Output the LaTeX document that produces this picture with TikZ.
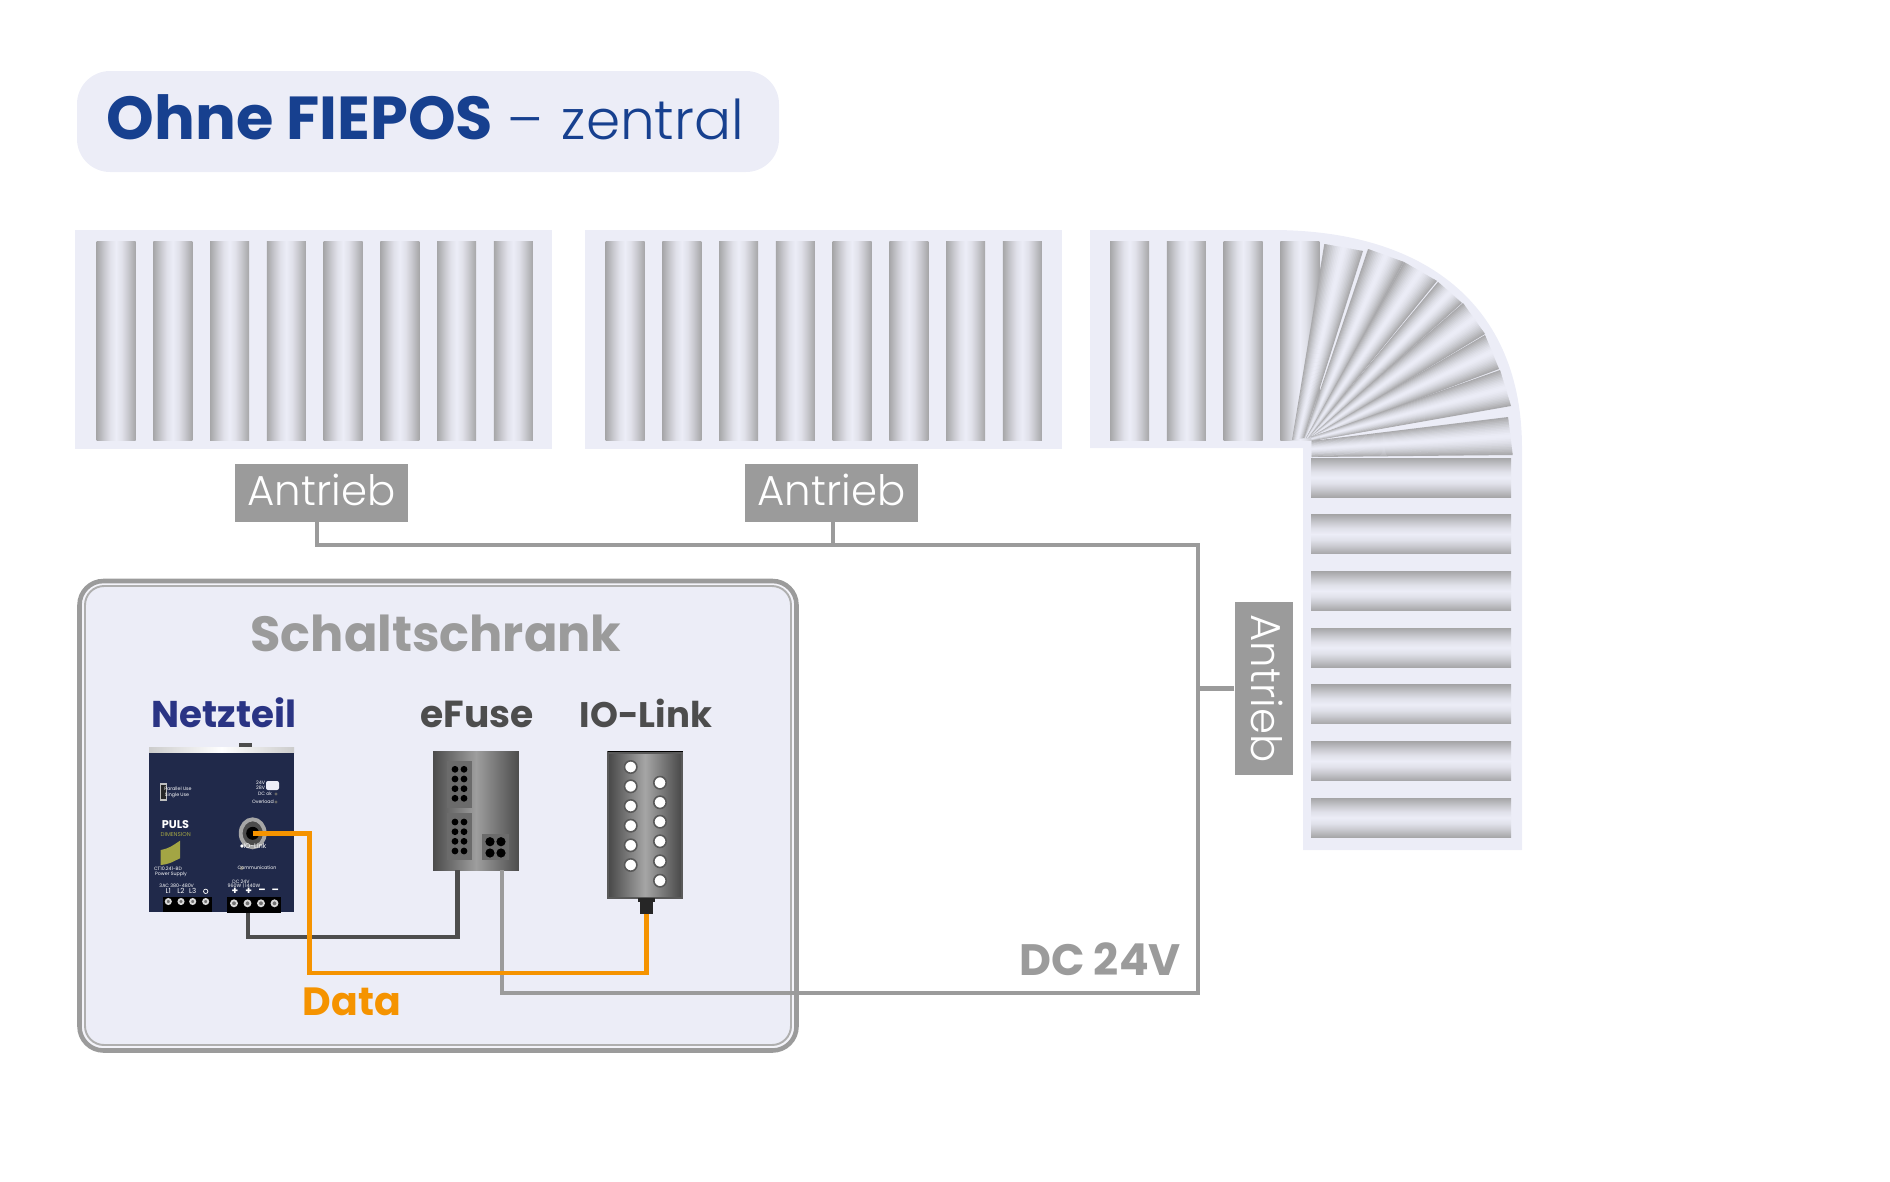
\documentclass[tikz,border=0pt]{standalone}
\usepackage{fontspec}
\setmainfont{Poppins}
\newfontfamily\lightfont{Poppins Light}
\usetikzlibrary{calc}
\definecolor{panelbg}{HTML}{ECEDF7}
\definecolor{stripdark}{HTML}{A6A6A8}
\definecolor{wiregray}{HTML}{9B9B9B}
\definecolor{wiredark}{HTML}{4D4D4D}
\definecolor{dataorange}{HTML}{F59300}
\definecolor{titleblue}{HTML}{17408F}
\definecolor{netznavy}{HTML}{2A3484}
\definecolor{pulsbody}{HTML}{20294A}
\definecolor{pulsolive}{HTML}{A3A544}
\colorlet{stripa}{panelbg!25!stripdark}
\colorlet{stripb}{panelbg!50!stripdark}
\colorlet{stripc}{panelbg!83!stripdark}
\pgfdeclarehorizontalshading{stripshadev}{100bp}{color(0bp)=(stripdark);color(25bp)=(stripdark);color(30bp)=(stripa);color(35bp)=(stripb);color(42.5bp)=(stripc);color(50bp)=(panelbg);color(57.5bp)=(stripc);color(65bp)=(stripb);color(70bp)=(stripa);color(75bp)=(stripdark);color(100bp)=(stripdark)}
\pgfdeclareverticalshading{stripshadeh}{100bp}{color(0bp)=(stripdark);color(25bp)=(stripdark);color(30bp)=(stripa);color(35bp)=(stripb);color(42.5bp)=(stripc);color(50bp)=(panelbg);color(57.5bp)=(stripc);color(65bp)=(stripb);color(70bp)=(stripa);color(75bp)=(stripdark);color(100bp)=(stripdark)}
\tikzset{
  stripv/.style={shading=stripshadev},
  striph/.style={shading=stripshadeh},
  antrieb/.style={fill=wiregray,text=white,inner sep=0pt,minimum width=1.73cm,minimum height=.58cm,text depth=.07cm,font=\lightfont\fontsize{11.9}{12}\selectfont},
  wire/.style={line width=1.25pt,wiregray},
  devlabel/.style={inner sep=0pt,anchor=base},
  tiny/.style={inner sep=0pt,text=white,font=\fontsize{1.35}{1.5}\selectfont}
}
\begin{document}
\begin{tikzpicture}[x=0.01cm,y=-0.01cm]
\useasboundingbox (0,0) rectangle (1890,1181);

% title
\fill[panelbg,rounded corners=.33cm] (77,71) rectangle (779,172);
\node[inner sep=0pt,anchor=base west,text=titleblue] (title) at (106,139) {\fontsize{17.25}{20}\selectfont\textbf{Ohne FIEPOS} \lightfont\fontsize{15.6}{20}\selectfont\hspace{-.02cm}\textendash\ \hspace{.04cm}zentral};

% straight panels
\fill[panelbg] (75,230) rectangle (552,449);
\fill[panelbg] (585,230) rectangle (1062,449);
\foreach \n in {0,...,7} {
  \shade[stripv] ({96.5+56.75*\n},241) rectangle ++(39,199);
  \shade[stripv] ({605.5+56.75*\n},241) rectangle ++(39,199);
}

% curved panel
\fill[panelbg] (1090,230) -- (1272,230) .. controls (1425,230) and (1522,305) .. (1522,448) -- (1522,850) -- (1303,850) -- (1303,448) -- (1090,448) -- cycle;
\foreach \n in {0,...,3}
  \shade[stripv] ({1110+56.8*\n},241) rectangle ++(39,199);
\foreach \n in {0,...,6}
  \shade[striph] (1311,{458+56.7*\n}) rectangle ++(200,39);

% fan of the bend, each blade in slices
\foreach \ax/\ay/\bx/\by/\cx/\cy/\ex/\ey in {
  1292/440/1304/438/1324.3/244/1363/251,
  1304/438/1308/438/1368/249/1404/262,
  1306/438/1309/438/1404/262/1437/281,
  1309/437/1311/438/1438/282/1462/303,
  1310/437/1312/438/1463/303/1485/334,
  1311/437/1312/439/1485/335/1499/369,
  1311/437/1312/441/1500/370/1511/406,
  1311.7/441/1311.7/457/1508/417/1512.7/455} {
  \foreach \t in {0,...,23} {
    \pgfmathsetmacro\tri{1-abs(2*(\t+.5)/24-1)}
    \pgfmathsetmacro\mixv{100*(1-(1-\tri)^1.5)}
    \pgfmathsetmacro\ta{\t/24}
    \pgfmathsetmacro\tb{min(1,(\t+1.4)/24)}
    \fill[panelbg!\mixv!stripdark] ({\ax+(\bx-\ax)*\ta},{\ay+(\by-\ay)*\ta}) -- ({\cx+(\ex-\cx)*\ta},{\cy+(\ey-\cy)*\ta}) -- ({\cx+(\ex-\cx)*\tb},{\cy+(\ey-\cy)*\tb}) -- ({\ax+(\bx-\ax)*\tb},{\ay+(\by-\ay)*\tb}) -- cycle;
  }
}

% drives
\node[antrieb] (ant1) at (321.5,493) {Antrieb};
\node[antrieb] (ant2) at (831.5,493) {Antrieb};
\node[antrieb,rotate=-90] (ant3) at (1264,688.5) {Antrieb};

% cabinet
\draw[wiregray,line width=1.3pt,fill=panelbg!60!white,rounded corners=.24cm] (79.5,581) rectangle (796.5,1050.5);
\draw[wiregray!80!white,line width=.55pt,fill=panelbg,rounded corners=.19cm] (85,586) rectangle (791,1045);
\node[devlabel,text=wiregray,font=\bfseries\fontsize{14.05}{16}\selectfont] (cabinet) at (436,651) {Schaltschrank};

\node[devlabel,text=netznavy,font=\bfseries\fontsize{10.6}{12}\selectfont] (netzlabel) at (224,727) {Netzteil};
\node[devlabel,text=wiredark,font=\bfseries\fontsize{10.7}{12}\selectfont] (efuselabel) at (477,727) {eFuse};
\node[devlabel,text=wiredark,font=\bfseries\fontsize{10.1}{12}\selectfont] (iolabel) at (646,727) {IO-Link};
\node[devlabel,text=dataorange,font=\bfseries\fontsize{11.2}{12}\selectfont] (datalabel) at (352,1015) {Data};
\node[devlabel,text=wiregray,font=\bfseries\fontsize{12.5}{12}\selectfont] (dclabel) at (1100,975) {DC 24V};

% power supply
\fill[black!70] (239,743) rectangle (252,748);
\shade[left color=black!20,right color=black!20,middle color=white] (149,747) rectangle (294,753);
\node[fill=pulsbody,inner sep=0pt,minimum width=1.45cm,minimum height=1.59cm] (netz) at (221.5,832.5) {};
\draw[white!75!black,line width=.3pt,fill=black!85] (160.7,784) rectangle (166.7,800);
\node[tiny] at (178,788.7) {Parallel Use};
\node[tiny] at (177,795) {Single Use};
\node[tiny,align=center] at (260.5,785) {24V\\28V};
\fill[panelbg,rounded corners=.02cm] (266,781) rectangle (279,790);
\node[tiny] at (265,794) {DC ok};
\node[tiny] at (263,802) {Overload};
\fill[black!60] (276,794) circle (1.6);
\fill[black!60] (276,802) circle (1.6);
\node[inner sep=0pt,text=white] at (175.5,824.7) {\bfseries\fontsize{3.2}{4}\selectfont PULS};
\node[inner sep=0pt,text=pulsolive] at (175.7,834.7) {\fontsize{1.6}{2}\selectfont DIMENSION};
\fill[pulsolive] (160.7,850) .. controls (170,848) and (172,846) .. (180,840.7) -- (180,858.3) .. controls (172,862) and (170,864) .. (160.7,865) -- cycle;
\node[tiny] at (168,869) {CT10.241-BD};
\node[tiny] at (171,874) {Power Supply};
\node[tiny] at (176.7,886) {3AC 380-480V};
\foreach \sx/\sl in {168.3/L1,181/L2,192.7/L3}
  \node[tiny,font=\fontsize{2}{2}\selectfont] at (\sx,891.3) {\sl};
\draw[white,line width=.2pt] (205.7,891.3) circle (2.2);
\fill[black] (162.7,896.7) rectangle (212,912.3);
\foreach \sx in {168.3,181,192.7,205.7}
  \draw[white!85!black,line width=.5pt,fill=white!45!black] (\sx,901.5) circle (2.6);
\node[tiny] at (241,882) {DC 24V};
\node[tiny] at (244,885.5) {960W | 1440W};
\foreach \sx/\sl in {235/+,248.7/+,262/\textendash,275.3/\textendash}
  \node[tiny,font=\bfseries\fontsize{3}{3}\selectfont] at (\sx,891) {\sl};
\fill[black] (227.3,896.7) rectangle (280.7,913.3);
\foreach \sx in {234,247.5,261,274.5}
  \draw[white!85!black,line width=.5pt,fill=white!45!black] (\sx,903.3) circle (3);
\draw[white!65!black,line width=1.1pt,fill=black!70] (252.7,833.3) circle [x radius=12,y radius=-14];
\fill[black] (252.7,833.3) circle (6.5);
\fill[white] (242,846) circle (1.8);
\node[tiny,font=\fontsize{1.9}{2}\selectfont] at (255,846) {IO-Link};
\fill[black!60] (241.7,868) circle (2);
\node[tiny] at (257,868) {Communication};

% eFuse
\node[left color=black!70,right color=black!70,middle color=black!38,inner sep=0pt,minimum width=.855cm,minimum height=1.18cm] (efuse) at (476,811) {};
\fill[black!58] (447,760.7) rectangle (472,807.7);
\fill[black!58] (447,812.7) rectangle (472,860);
\fill[black!58] (482,834) rectangle (508.7,860);
\foreach \py in {769.3,779,788.7,798.3,822,831.7,841.3,851} {
  \fill[black] (455,\py) circle (3.4);
  \fill[black] (464,\py) circle (3.4);
}
\foreach \py in {841.7,853} {
  \fill[black] (490,\py) circle (4.6);
  \fill[black] (501,\py) circle (4.6);
}

% IO-Link box
\node[draw=black!65,line width=.6pt,left color=black!72,right color=black!72,middle color=black!35,inner sep=0pt,minimum width=.74cm,minimum height=1.45cm] (iolink) at (645,825) {};
\draw[black,line width=.3pt] (607.5,751.5) -- (682.5,751.5);
\foreach \py in {767,786.3,806,825.7,845.3,865}
  \draw[black!65,line width=.45pt,fill=white] (630.7,\py) circle (6.2);
\foreach \py in {782.7,802.3,821.7,841.3,861.3,880.7}
  \draw[black!65,line width=.45pt,fill=white] (660,\py) circle (6.2);
\fill[black!85] (637.7,898) rectangle (655,902);
\fill[black!85] (639.7,902) rectangle (652.7,914);

% wires
\coordinate (ant1out) at (317,522);
\coordinate (ant2out) at (833,522);
\coordinate (bustop) at (1198,545);
\coordinate (busbot) at (1198,993);
\coordinate (efuseout) at (502,870);
\coordinate (efusein) at (457.7,870);
\coordinate (netzout) at (248,913);
\coordinate (ringin) at (252.7,833.3);
\coordinate (ioin) at (646.3,914);
\draw[wire] (ant1out) |- (bustop) -- (busbot) -| (efuseout);
\draw[wire] (ant2out) -- (ant2out |- bustop);
\draw[wire] (ant3.south) -- (ant3.south -| bustop);
\draw[wiredark,line width=1.4pt] (netzout) |- (457.7,937) -- (efusein);
\draw[dataorange,line width=1.4pt] (ringin) -| (309.6,973) -| (ioin);
\end{tikzpicture}
\end{document}
